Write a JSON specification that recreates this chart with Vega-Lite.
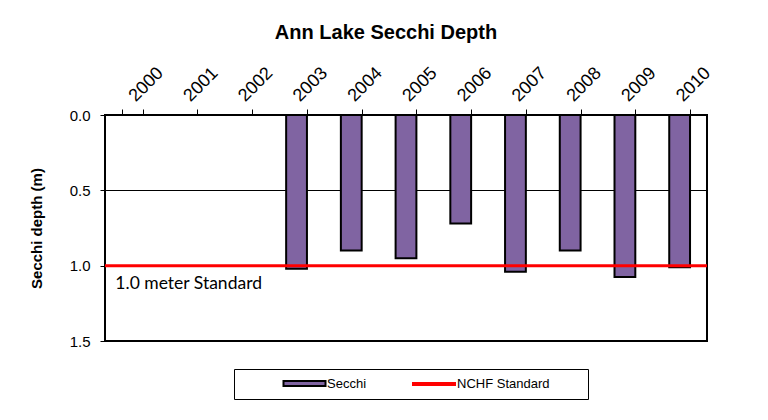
{
  "$schema": "https://vega.github.io/schema/vega-lite/v6.json",
  "width": 602,
  "height": 226,
  "autosize": {"type": "none"},
  "padding": {"left": 105, "top": 115, "right": 61, "bottom": 79},
  "background": "white",
  "title": {
    "text": "Ann Lake Secchi Depth",
    "font": "Liberation Sans",
    "fontSize": 20,
    "fontWeight": "bold",
    "color": "black",
    "anchor": "middle",
    "dx": -20,
    "offset": 21
  },
  "config": {
    "view": {"stroke": "black", "strokeWidth": 2},
    "axis": {
      "labelFont": "Liberation Sans",
      "labelFontSize": 15,
      "labelColor": "black",
      "titleFont": "Liberation Sans",
      "titleFontSize": 15,
      "titleFontWeight": "bold",
      "titleColor": "black",
      "domainColor": "black",
      "domainWidth": 2,
      "tickColor": "black",
      "tickWidth": 1
    },
    "legend": {
      "labelFont": "Liberation Sans",
      "labelFontSize": 13,
      "labelColor": "black",
      "labelLimit": 500
    }
  },
  "datasets": {
    "secchi": [
      {"year": "2000", "depth": null, "series": "Secchi"},
      {"year": "2001", "depth": null, "series": "Secchi"},
      {"year": "2002", "depth": null, "series": "Secchi"},
      {"year": "2003", "depth": 1.02, "series": "Secchi"},
      {"year": "2004", "depth": 0.9, "series": "Secchi"},
      {"year": "2005", "depth": 0.95, "series": "Secchi"},
      {"year": "2006", "depth": 0.72, "series": "Secchi"},
      {"year": "2007", "depth": 1.04, "series": "Secchi"},
      {"year": "2008", "depth": 0.9, "series": "Secchi"},
      {"year": "2009", "depth": 1.075, "series": "Secchi"},
      {"year": "2010", "depth": 1.01, "series": "Secchi"}
    ],
    "standard": [
      {"std": 1.0, "series": "NCHF Standard", "note": "1.0 meter Standard", "year": "2000"}
    ]
  },
  "layer": [
    {
      "data": {"name": "secchi"},
      "mark": {"type": "bar", "stroke": "black", "strokeWidth": 2},
      "encoding": {
        "x": {
          "field": "year",
          "type": "nominal",
          "sort": null,
          "scale": {
            "domain": ["2000", "2001", "2002", "2003", "2004", "2005", "2006", "2007", "2008", "2009", "2010"],
            "paddingInner": 0.62,
            "paddingOuter": 0.31
          },
          "axis": {
            "orient": "top",
            "title": null,
            "labelAngle": -45,
            "labelAlign": "left",
            "labelBaseline": "alphabetic",
            "labelFontSize": 18,
            "labelPadding": 7,
            "labelOffset": 3,
            "tickBand": "extent",
            "tickSize": 6,
            "domain": false
          }
        },
        "y": {
          "field": "depth",
          "type": "quantitative",
          "scale": {"domain": [0, 1.5], "reverse": true, "nice": false},
          "axis": {
            "title": "Secchi depth (m)",
            "values": [0, 0.5, 1.0, 1.5],
            "format": ".1f",
            "grid": true,
            "gridColor": "black",
            "gridWidth": 1,
            "gridOpacity": 1,
            "tickSize": 5,
            "labelPadding": 10,
            "titlePadding": 25,
            "domain": false
          }
        },
        "fill": {
          "field": "series",
          "type": "nominal",
          "scale": {"domain": ["Secchi"], "range": ["#8064A2"]},
          "legend": {
            "orient": "none",
            "legendX": 129,
            "legendY": 254,
            "direction": "horizontal",
            "title": null,
            "strokeColor": "black",
            "padding": 8,
            "labelOffset": 16,
            "symbolSize": 100,
            "symbolOffset": 56,
            "symbolType": "M-4.2,-0.5H4.2V0.5H-4.2ZM54.2,0",
            "symbolStrokeColor": "black",
            "symbolStrokeWidth": 2,
            "symbolOpacity": 1
          }
        }
      }
    },
    {
      "data": {"name": "standard"},
      "mark": {"type": "rule", "strokeWidth": 3},
      "encoding": {
        "y": {"field": "std", "type": "quantitative"},
        "stroke": {
          "field": "series",
          "type": "nominal",
          "scale": {"domain": ["NCHF Standard"], "range": ["#FF0000"]},
          "legend": {
            "orient": "none",
            "legendX": 287,
            "legendY": 254,
            "direction": "horizontal",
            "title": null,
            "padding": 8,
            "labelOffset": 16,
            "symbolSize": 100,
            "symbolOffset": 27,
            "symbolType": "M-4.4,0H4.4",
            "symbolStrokeWidth": 4,
            "symbolOpacity": 1
          }
        }
      }
    },
    {
      "data": {"name": "standard"},
      "mark": {"type": "text", "font": "Lato", "fontSize": 17.5, "align": "left", "baseline": "middle", "dx": -17, "dy": 18, "color": "black"},
      "encoding": {
        "x": {"field": "year", "type": "nominal"},
        "y": {"field": "std", "type": "quantitative"},
        "text": {"field": "note"}
      }
    }
  ]
}
